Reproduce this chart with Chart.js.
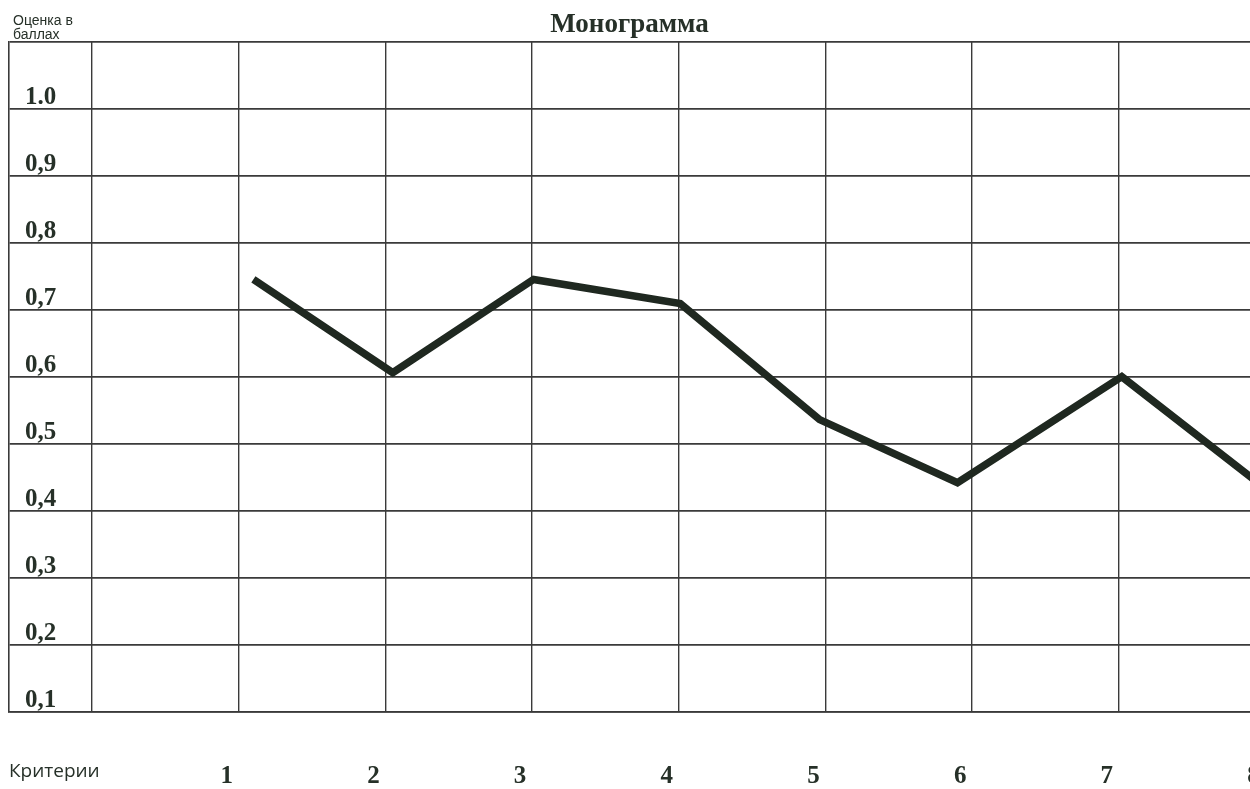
<!DOCTYPE html>
<html>
<head>
<meta charset="utf-8">
<script src="https://cdn.jsdelivr.net/npm/chart.js@4"></script>
<style>
  body { margin: 0; background: #fff; }
</style>
</head>
<body>
<canvas id="chart1" width="1250" height="789"></canvas>
<script>
// criteria on the x axis, scores
let criteria = ['1', '2', '3', '4', '5', '6', '7', '8'];
let criteriaPos = [1.1, 2.05, 3.01, 4.01, 4.96, 5.9, 7.02, 8.0];
let scores = [0.745, 0.606, 0.745, 0.709, 0.536, 0.442, 0.6, 0.433];
let yTicks = [0.1, 0.2, 0.3, 0.4, 0.5, 0.6, 0.7, 0.8, 0.9, 1.0, 1.1];
let yTickLabels = ['0,1', '0,2', '0,3', '0,4', '0,5', '0,6', '0,7', '0,8', '0,9', '1.0', ''];
let xTicks = [0].concat(criteria.map(Number));

const ink = '#263028';
const gridInk = '#3a3a3a';
const serif = 'Liberation Serif, Times New Roman, serif';

const cornerText = {
  id: 'cornerText',
  afterDraw(chart) {
    const c = chart.ctx;
    c.save();
    c.fillStyle = ink;
    c.textBaseline = 'alphabetic';
    c.textAlign = 'left';
    c.font = '14px "Liberation Sans", Arial, sans-serif';
    c.fillText('Оценка в', 13, 25);
    c.fillText('баллах', 13, 39);
    c.font = '19px "Open Sans", sans-serif';
    c.fillText('Критерии', 9, 777);
    c.restore();
  }
};

new Chart('chart1', {
  type: 'line',
  data: {
    datasets: [{
      data: criteriaPos.map((x, i) => ({ x: x, y: scores[i] })),
      borderColor: '#1f2820',
      borderWidth: 7.5,
      pointRadius: 0,
      tension: 0,
      fill: false
    }]
  },
  options: {
    responsive: false,
    animation: false,
    layout: { padding: { left: 9, right: 0, top: 0, bottom: 0 } },
    plugins: {
      legend: { display: false },
      tooltip: { enabled: false },
      title: {
        display: true,
        text: 'Монограмма',
        color: ink,
        font: { family: serif, size: 27, weight: 'bold' },
        padding: { top: 9, bottom: 0 }
      }
    },
    scales: {
      x: {
        type: 'linear',
        min: -0.566,
        max: 7.894,
        afterBuildTicks: (axis) => { axis.ticks = xTicks.map(v => ({ value: v })); },
        afterFit: (axis) => { axis.height = 77; axis.paddingLeft = 0; axis.paddingRight = 0; },
        grid: { color: gridInk, lineWidth: 1.4, drawTicks: false },
        border: { color: gridInk, width: 1.6 },
        ticks: {
          autoSkip: false,
          maxRotation: 0,
          padding: 50,
          labelOffset: -12,
          color: ink,
          font: { family: serif, size: 25, weight: 'bold' },
          callback: (v) => v === 0 ? '' : criteria[v - 1]
        }
      },
      y: {
        min: 0.1,
        max: 1.1,
        afterBuildTicks: (axis) => { axis.ticks = yTicks.map(v => ({ value: v })); },
        afterFit: (axis) => { axis.width = 0; axis.paddingTop = 0; axis.paddingBottom = 0; },
        grid: { color: gridInk, lineWidth: 1.8, drawTicks: false },
        border: { color: gridInk, width: 1.6 },
        ticks: {
          mirror: true,
          padding: 16,
          labelOffset: -11,
          color: ink,
          font: { family: serif, size: 25, weight: 'bold' },
          callback: (v, i) => yTickLabels[i]
        }
      }
    }
  },
  plugins: [cornerText]
});
</script>
</body>
</html>
